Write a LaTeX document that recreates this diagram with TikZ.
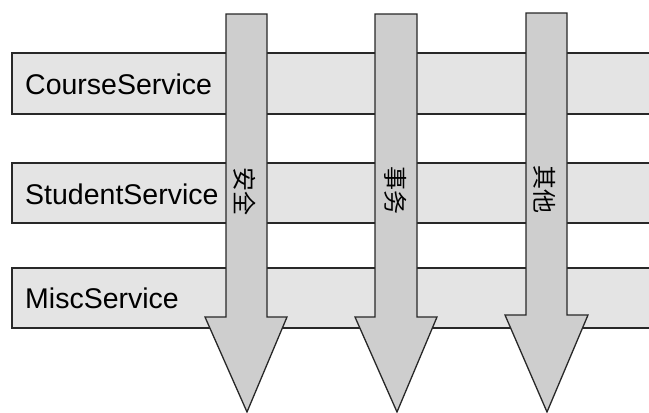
\documentclass[tikz,border=0pt]{standalone}
\usepackage{fontspec}
\setmainfont{Liberation Sans}
\newfontfamily\cjk{Noto Sans CJK SC}
\definecolor{bandfill}{RGB}{228,228,228}
\definecolor{arrowfill}{RGB}{206,206,206}
\definecolor{edge}{RGB}{40,40,40}
\begin{document}
\begin{tikzpicture}[x=1pt,y=-1pt,
  band/.style={fill=bandfill,draw=edge,line width=1.3pt},
  bigarrow/.style={fill=arrowfill,draw=edge,line width=1.3pt,line join=miter},
  svc/.style={anchor=west,font=\fontsize{28.5}{28.5}\selectfont,text=black,inner sep=0pt},
  aspect/.style={rotate=-90,font=\cjk\fontsize{24}{24}\selectfont,text=black,inner sep=0pt}]
\useasboundingbox (0,0) rectangle (649,413);
\clip (0,0) rectangle (649,413);
% bands
\draw[band] (12,53) rectangle (670,114);
\draw[band] (12,163) rectangle (670,223);
\draw[band] (12,268) rectangle (670,328);
\node[svc] (course) at (25,84) {CourseService};
\node[svc] (student) at (25,194) {StudentService};
\node[svc] (misc) at (25,298) {MiscService};
% arrows
\draw[bigarrow] (226,14) -- (267,14) -- (267,317) -- (287,317) -- (247,412) -- (205,317) -- (226,317) -- cycle;
\draw[bigarrow] (375,14) -- (417,14) -- (417,317) -- (437,317) -- (397,412) -- (355,317) -- (375,317) -- cycle;
\draw[bigarrow] (526,13) -- (567,13) -- (567,315) -- (588,315) -- (547,412) -- (505,315) -- (526,315) -- cycle;
\node[aspect] (sec) at (245,191) {安全};
\node[aspect] (tx) at (396,190) {事务};
\node[aspect] (other) at (545,189) {其他};
\end{tikzpicture}
\end{document}
